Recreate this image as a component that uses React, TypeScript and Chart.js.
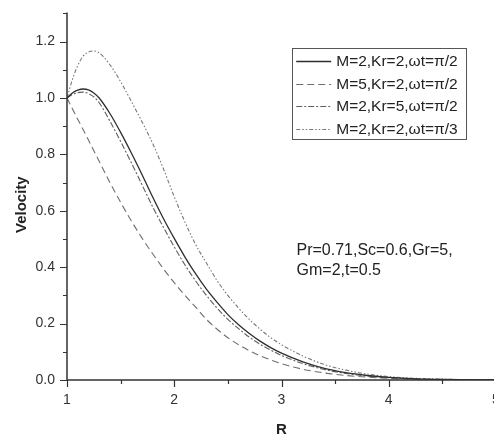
import React, { useEffect, useRef } from "react";
import { Chart, registerables } from "chart.js";

Chart.register(...registerables);

// ---- data ----
const R = [
  1.0, 1.05, 1.1, 1.15, 1.2, 1.25, 1.3, 1.4, 1.5, 1.6, 1.7, 1.8, 1.9, 2.0,
  2.1, 2.2, 2.3, 2.4, 2.5, 2.6, 2.7, 2.8, 2.9, 3.0, 3.2, 3.4, 3.6, 3.8, 4.0,
  4.25, 4.5, 4.75, 5.0,
];
const velM2Kr2Pi2 = [
  1.0, 1.018, 1.028, 1.032, 1.029, 1.018, 1.0, 0.945, 0.878, 0.805, 0.728,
  0.648, 0.572, 0.502, 0.436, 0.376, 0.322, 0.275, 0.232, 0.196, 0.165, 0.138,
  0.115, 0.095, 0.064, 0.041, 0.026, 0.016, 0.009, 0.004, 0.002, 0.001, 0.0,
];
const velM5Kr2Pi2 = [
  1.0, 0.962, 0.925, 0.888, 0.851, 0.813, 0.776, 0.7, 0.63, 0.564, 0.503,
  0.447, 0.394, 0.345, 0.3, 0.258, 0.215, 0.18, 0.15, 0.125, 0.104, 0.086,
  0.071, 0.058, 0.038, 0.025, 0.016, 0.01, 0.006, 0.003, 0.001, 0.0005, 0.0,
];
const velM2Kr5Pi2 = [
  1.0, 1.012, 1.019, 1.021, 1.016, 1.004, 0.983, 0.918, 0.846, 0.77, 0.692,
  0.613, 0.541, 0.472, 0.408, 0.351, 0.3, 0.255, 0.215, 0.182, 0.152, 0.127,
  0.106, 0.087, 0.058, 0.037, 0.023, 0.014, 0.008, 0.004, 0.002, 0.001, 0.0,
];
const velM2Kr2Pi3 = [
  1.0, 1.065, 1.115, 1.148, 1.163, 1.167, 1.16, 1.118, 1.058, 0.988, 0.915,
  0.838, 0.748, 0.65, 0.56, 0.48, 0.415, 0.352, 0.3, 0.255, 0.215, 0.18, 0.15,
  0.125, 0.085, 0.055, 0.035, 0.021, 0.012, 0.006, 0.003, 0.001, 0.0,
];
const seriesLabels = [
  "M=2,Kr=2,\u03c9t=\u03c0/2",
  "M=5,Kr=2,\u03c9t=\u03c0/2",
  "M=2,Kr=5,\u03c9t=\u03c0/2",
  "M=2,Kr=2,\u03c9t=\u03c0/3",
];
const noteLines = ["Pr=0.71,Sc=0.6,Gr=5,", "Gm=2,t=0.5"];
const xTitle = "R";
const yTitle = "Velocity";

// ---- styles ----
const FONT = "'Liberation Sans', Arial, sans-serif";
const styles = [
  { color: "#2e2e2e", dash: [] as number[], width: 1.3 },
  { color: "#6e6e6e", dash: [7, 4], width: 1.1 },
  { color: "#5e5e5e", dash: [6, 2, 2, 2], width: 1.1 },
  { color: "#777777", dash: [4, 2, 1.5, 2, 1.5, 2], width: 1.1 },
];
const seriesValues = [velM2Kr2Pi2, velM5Kr2Pi2, velM2Kr5Pi2, velM2Kr2Pi3];

const decor = {
  id: "decor",
  afterDraw(chart: any) {
    const { ctx, chartArea, scales } = chart;
    const { left, right, top, bottom } = chartArea;
    const x = scales.x;
    const y = scales.y;
    ctx.save();
    ctx.strokeStyle = "#333";
    ctx.lineWidth = 1.5;
    ctx.setLineDash([]);
    ctx.beginPath();
    ctx.moveTo(left, top - 1);
    ctx.lineTo(left, bottom);
    ctx.lineTo(right + 10, bottom);
    ctx.stroke();
    ctx.lineWidth = 1.2;
    ctx.beginPath();
    for (let i = 0; i <= 13; i++) {
      const py = Math.round(y.getPixelForValue(i / 10)) + 0.5;
      const len = i % 2 === 0 ? 7 : 4;
      ctx.moveTo(left - len, py);
      ctx.lineTo(left, py);
    }
    for (let i = 0; i <= 8; i++) {
      const px = Math.round(x.getPixelForValue(1 + i / 2)) + 0.5;
      const len = i % 2 === 0 ? 7 : 4;
      ctx.moveTo(px, bottom);
      ctx.lineTo(px, bottom + len);
    }
    ctx.stroke();

    // y title
    ctx.save();
    ctx.translate(22, (top + bottom) / 2 + 8);
    ctx.rotate(-Math.PI / 2);
    ctx.font = "bold 15px " + FONT;
    ctx.fillStyle = "#222";
    ctx.textAlign = "center";
    ctx.textBaseline = "middle";
    ctx.fillText(yTitle, 0, 0);
    ctx.restore();

    // legend
    const bx = x.getPixelForValue(3.10);
    const by = y.getPixelForValue(1.177);
    const bw = 174;
    const bh = 91;
    ctx.lineWidth = 1;
    ctx.strokeStyle = "#555";
    ctx.strokeRect(Math.round(bx) + 0.5, Math.round(by) + 0.5, bw, bh);
    ctx.font = "15.5px " + FONT;
    ctx.textBaseline = "middle";
    ctx.textAlign = "left";
    seriesLabels.forEach((lab, i) => {
      const ly = Math.round(by + 13 + i * 22.5) + 0.5;
      const st = styles[i];
      ctx.strokeStyle = st.color;
      ctx.lineWidth = st.width;
      ctx.setLineDash(st.dash);
      ctx.beginPath();
      ctx.moveTo(bx + 4, ly);
      ctx.lineTo(bx + 39, ly);
      ctx.stroke();
      ctx.setLineDash([]);
      ctx.fillStyle = "#222";
      ctx.fillText(lab, bx + 44, ly);
    });

    // note
    const nx = x.getPixelForValue(3.14);
    ctx.fillStyle = "#222";
    ctx.font = "16px " + FONT;
    ctx.fillText(noteLines[0], nx, y.getPixelForValue(0.46));
    ctx.fillText(noteLines[1], nx, y.getPixelForValue(0.387));
    ctx.restore();
  },
};

export default function App() {
  const ref = useRef<HTMLCanvasElement | null>(null);
  useEffect(() => {
    const canvas = ref.current!;
    const datasets = seriesValues.map((vals, i) => ({
      label: seriesLabels[i],
      data: R.map((r, j) => ({ x: r, y: vals[j] })),
      borderColor: styles[i].color,
      borderWidth: styles[i].width,
      borderDash: styles[i].dash,
      pointRadius: 0,
      fill: false,
      cubicInterpolationMode: "monotone" as const,
    }));
    const chart = new Chart(canvas, {
      type: "line",
      data: { datasets },
      options: {
        animation: false,
        responsive: false,
        maintainAspectRatio: false,
        devicePixelRatio: 1,
        layout: { padding: { left: 0, top: 7, right: 14, bottom: 0 } },
        plugins: { legend: { display: false }, tooltip: { enabled: false } },
        scales: {
          x: {
            type: "linear",
            min: 1,
            max: 5,
            afterFit: (s: any) => {
              s.height = 59;
            },
            border: { display: false },
            grid: {
              display: true,
              drawOnChartArea: false,
              drawTicks: true,
              tickLength: 7,
              color: "rgba(0,0,0,0)",
              tickColor: "rgba(0,0,0,0)",
            },
            ticks: {
              stepSize: 0.5,
              autoSkip: false,
              maxRotation: 0,
              padding: 5,
              color: "#333",
              font: { family: FONT, size: 14 },
              callback: (v: any) => (Math.abs(v - Math.round(v)) < 1e-6 ? String(Math.round(v)) : ""),
            },
            title: {
              display: true,
              text: xTitle,
              color: "#222",
              font: { family: FONT, size: 15, weight: "bold" },
              padding: { top: 0, bottom: 0 },
            },
          },
          y: {
            type: "linear",
            min: 0,
            max: 1.3,
            afterFit: (s: any) => {
              s.width = 67;
            },
            border: { display: false },
            grid: {
              display: true,
              drawOnChartArea: false,
              drawTicks: true,
              tickLength: 7,
              color: "rgba(0,0,0,0)",
              tickColor: "rgba(0,0,0,0)",
            },
            ticks: {
              stepSize: 0.1,
              autoSkip: false,
              padding: 5,
              color: "#333",
              font: { family: FONT, size: 14 },
              callback: (v: any) => {
                const k = Math.round(v * 10);
                return k % 2 === 0 && k <= 12 ? (k / 10).toFixed(1) : "";
              },
            },
            title: { display: false },
          },
        },
      },
      plugins: [decor],
    });
    return () => chart.destroy();
  }, []);
  return (
    <div
      style={{
        position: "fixed",
        left: 0,
        top: 0,
        width: 494,
        height: 439,
        overflow: "hidden",
        background: "#fff",
      }}
    >
      <canvas ref={ref} width={510} height={439} style={{ display: "block" }} />
    </div>
  );
}
